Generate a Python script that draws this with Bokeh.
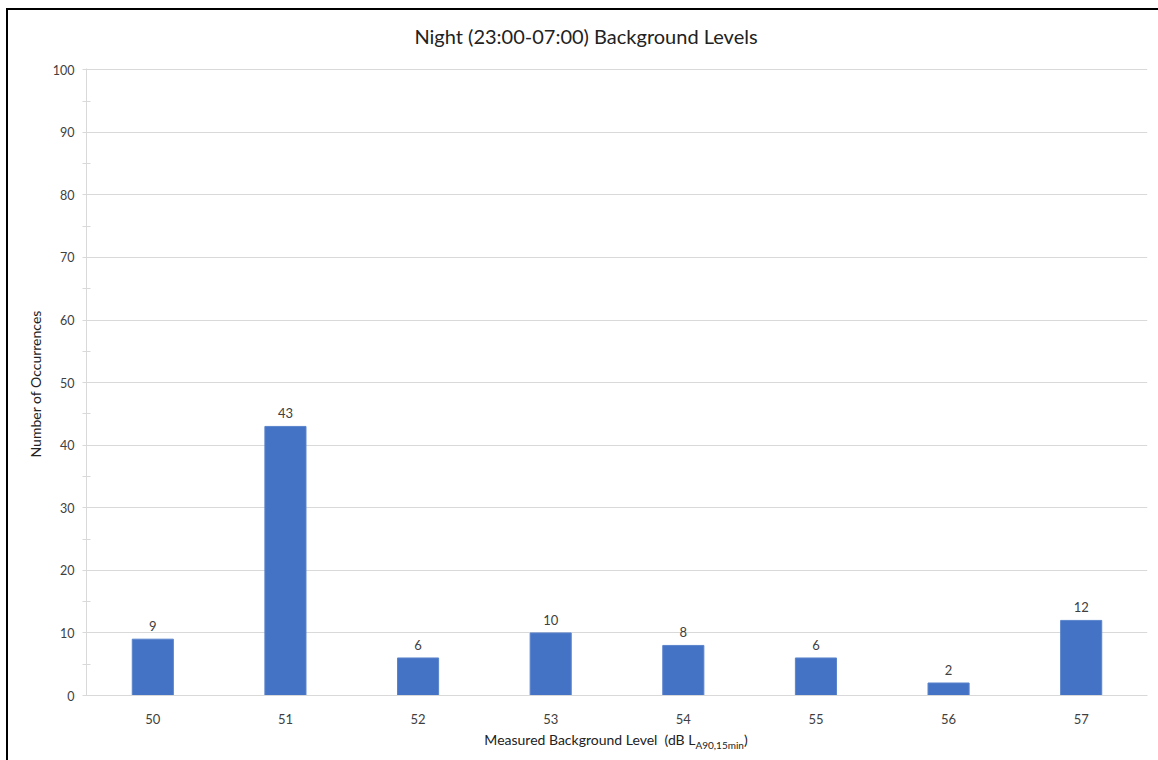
from bokeh.plotting import figure
from bokeh.models import ColumnDataSource, LabelSet, FactorRange, Div, Range1d
from bokeh.layouts import column
from bokeh.core.properties import value
from bokeh.embed import file_html
from bokeh.resources import INLINE

levels = ["50", "51", "52", "53", "54", "55", "56", "57"]
counts = [9, 43, 6, 10, 8, 6, 2, 12]
title_text = "Night (23:00-07:00) Background Levels"
y_title = "Number  of Occurrences"
x_title_main = "Measured Background Level&nbsp; (dB L"
x_title_sub = "A90,15min"
x_title_end = ")"

FONT = "Lato"
TXT = "#404040"
GRID = "#d9d9d9"

src = ColumnDataSource(dict(x=levels, y=counts, lab=[str(c) for c in counts]))

p = figure(x_range=FactorRange(*levels, range_padding=0), y_range=Range1d(0, 100.2),
           width=1150, height=670, output_backend="svg", toolbar_location=None,
           min_border_left=78, min_border_right=11, min_border_top=8, min_border_bottom=35)
p.margin = 0
p.outline_line_color = None
p.background_fill_color = "white"
p.border_fill_color = "white"

p.vbar(x="x", top="y", width=0.31, source=src, fill_color="#4472C4", line_color="#5b84cc", line_width=1)

labels = LabelSet(x="x", y="y", text="lab", source=src, text_align="center", text_baseline="bottom",
                  y_offset=8, text_font=value(FONT), text_font_size="13px", text_color=TXT)
p.add_layout(labels)

# grid
p.xgrid.grid_line_color = None
p.ygrid.grid_line_color = GRID
p.ygrid.grid_line_width = 1

# y axis
ya = p.yaxis[0]
ya.axis_line_color = GRID
ya.major_tick_line_color = GRID
ya.major_tick_out = 3
ya.major_tick_in = 0
ya.minor_tick_line_color = GRID
ya.minor_tick_out = 4
ya.minor_tick_in = 4
ya.ticker.desired_num_ticks = 11
ya.ticker.num_minor_ticks = 2
ya.major_label_text_font = FONT
ya.major_label_text_font_size = "12.5px"
ya.major_label_text_color = TXT
ya.major_label_standoff = 8
ya.axis_label = y_title
ya.axis_label_text_font = FONT
ya.axis_label_text_font_size = "14px"
ya.axis_label_text_font_style = "normal"
ya.axis_label_text_color = "#222222"
ya.axis_label_standoff = 6

# x axis
xa = p.xaxis[0]
xa.axis_line_color = GRID
xa.major_tick_line_color = None
xa.minor_tick_line_color = None
xa.major_label_text_font = FONT
xa.major_label_text_font_size = "13px"
xa.major_label_text_color = TXT
xa.major_label_standoff = 12

title_div = Div(text=title_text, width=1150, height=50, margin=0,
                styles={"font-family": FONT, "font-size": "20px", "color": "#222222",
                        "text-align": "center", "text-indent": "6px", "line-height": "52px",
                        "white-space": "nowrap"})

xt_html = (f'{x_title_main}<span style="font-size:10px; position:relative; top:4px;">'
           f'{x_title_sub}</span>{x_title_end}')
xtitle_div = Div(text=xt_html, width=1150, height=30, margin=0,
                 styles={"font-family": FONT, "font-size": "14px", "color": "#222222",
                         "text-align": "center", "text-indent": "66px", "line-height": "20px",
                         "white-space": "nowrap"})

layout = column(title_div, p, xtitle_div, spacing=0)
layout.margin = (8, 0, 0, 6)
layout.styles = {"border-left": "2px solid #000", "border-top": "2px solid #000",
                 "background-color": "white"}

open("out.html", "w").write(file_html(layout, INLINE))
